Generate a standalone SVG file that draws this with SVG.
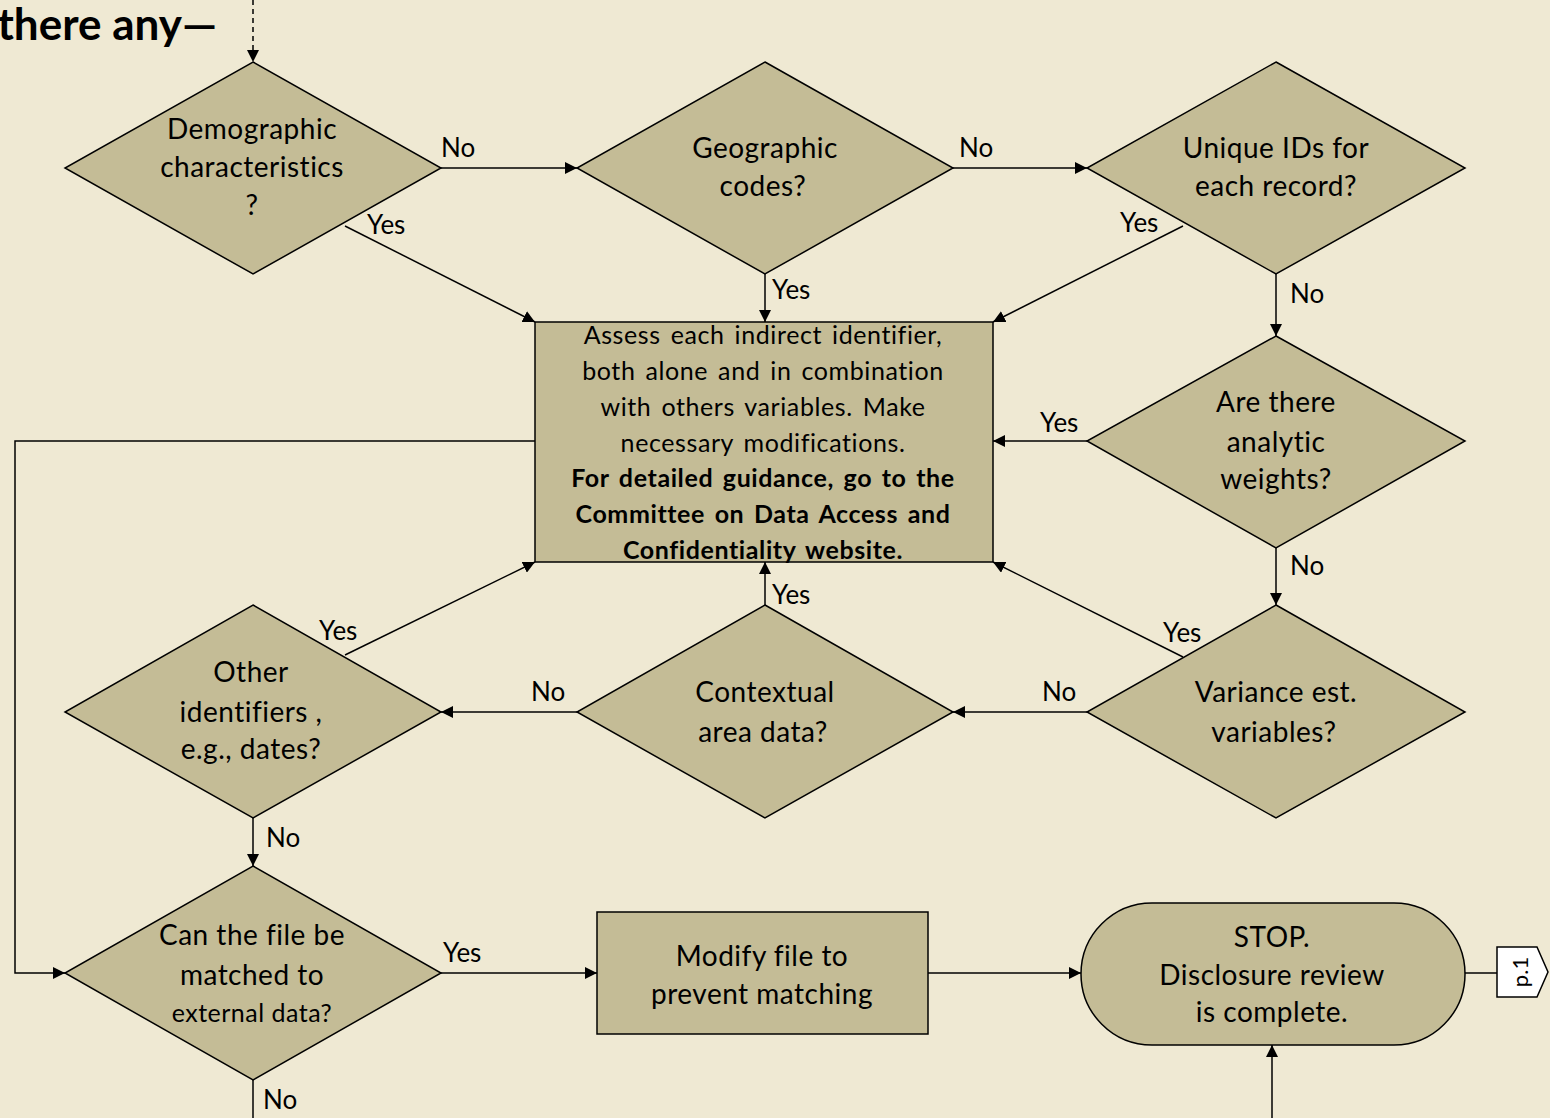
<svg xmlns="http://www.w3.org/2000/svg" width="1550" height="1118" viewBox="0 0 1550 1118">
<defs>
<marker id="ah" viewBox="0 0 10 10" refX="10" refY="5" markerWidth="12" markerHeight="12" markerUnits="userSpaceOnUse" orient="auto"><path d="M0,0 L10,5 L0,10 z" fill="#000"/></marker>
<style>
.n{fill:#c4bc96;stroke:#000;stroke-width:1.5}
.t{font-family:Lato,"Open Sans",sans-serif;font-size:28px;letter-spacing:0.5px;fill:#000;text-anchor:middle}
.s{font-family:Lato,"Open Sans",sans-serif;font-size:25px;letter-spacing:0.6px;word-spacing:3px;fill:#000;text-anchor:middle}
.b{font-weight:bold}
.l{font-family:Lato,"Open Sans",sans-serif;font-size:26px;fill:#000}
.c{fill:none;stroke:#000;stroke-width:1.5}
.a{marker-end:url(#ah)}
</style>
</defs>
<rect width="1550" height="1118" fill="#efe9d3"/>
<text x="217" y="40" class="l b" style="font-size:44px;text-anchor:end">there any—</text>

<g id="connectors">
<line class="c a" x1="253" y1="0" x2="253" y2="62" stroke-dasharray="5,4"/>
<line class="c a" x1="441" y1="168" x2="577" y2="168"/>
<line class="c a" x1="953" y1="168" x2="1087" y2="168"/>
<line class="c a" x1="345" y1="226" x2="535" y2="322"/>
<line class="c a" x1="765" y1="274" x2="765" y2="322"/>
<line class="c a" x1="1183" y1="226" x2="993" y2="322"/>
<line class="c a" x1="1276" y1="274" x2="1276" y2="336"/>
<line class="c a" x1="1087" y1="441" x2="993" y2="441"/>
<line class="c a" x1="1276" y1="548" x2="1276" y2="605"/>
<line class="c a" x1="1087" y1="712" x2="953" y2="712"/>
<line class="c a" x1="1183" y1="657" x2="993" y2="562"/>
<line class="c a" x1="765" y1="605" x2="765" y2="562"/>
<line class="c a" x1="577" y1="712" x2="441" y2="712"/>
<line class="c a" x1="345" y1="655" x2="535" y2="562"/>
<line class="c a" x1="253" y1="818" x2="253" y2="866"/>
<polyline class="c a" points="535,441 15,441 15,973 65,973"/>
<line class="c a" x1="441" y1="973" x2="597" y2="973"/>
<line class="c" x1="253" y1="1080" x2="253" y2="1118"/>
<line class="c a" x1="928" y1="973" x2="1081" y2="973"/>
<line class="c a" x1="1272" y1="1118" x2="1272" y2="1045"/>
<line class="c" x1="1465" y1="973" x2="1497" y2="973"/>
<text class="l" x="441" y="157">No</text>
<text class="l" x="959" y="157">No</text>
<text class="l" x="367" y="234">Yes</text>
<text class="l" x="772" y="299">Yes</text>
<text class="l" x="1120" y="232">Yes</text>
<text class="l" x="1290" y="303">No</text>
<text class="l" x="1040" y="432">Yes</text>
<text class="l" x="1290" y="575">No</text>
<text class="l" x="1042" y="701">No</text>
<text class="l" x="1163" y="642">Yes</text>
<text class="l" x="772" y="604">Yes</text>
<text class="l" x="531" y="701">No</text>
<text class="l" x="319" y="640">Yes</text>
<text class="l" x="266" y="847">No</text>
<text class="l" x="443" y="962">Yes</text>
<text class="l" x="263" y="1109">No</text>
</g>

<g id="demographic">
<polygon class="n" points="253,62 441,168 253,274 65,168"/>
<text class="t" x="252" y="139">Demographic</text>
<text class="t" x="252" y="177">characteristics</text>
<text class="t" x="252" y="215">?</text>
</g>
<g id="geographic">
<polygon class="n" points="765,62 953,168 765,274 577,168"/>
<text class="t" x="765" y="158">Geographic</text>
<text class="t" x="763" y="196">codes?</text>
</g>
<g id="uniqueids">
<polygon class="n" points="1276,62 1465,168 1276,274 1087,168"/>
<text class="t" x="1276" y="158">Unique IDs for</text>
<text class="t" x="1276" y="196">each record?</text>
</g>
<g id="assess">
<rect class="n" x="535" y="322" width="458" height="240"/>
<text class="s" x="763" y="344">Assess each indirect identifier,</text>
<text class="s" x="763" y="380">both alone and in combination</text>
<text class="s" x="763" y="416">with others variables. Make</text>
<text class="s" x="763" y="452">necessary modifications.</text>
<text class="s b" x="763" y="487">For detailed guidance, go to the</text>
<text class="s b" x="763" y="523">Committee on Data Access and</text>
<text class="s b" x="763" y="559">Confidentiality website.</text>
</g>
<g id="weights">
<polygon class="n" points="1276,336 1465,441 1276,548 1087,441"/>
<text class="t" x="1276" y="412">Are there</text>
<text class="t" x="1276" y="452">analytic</text>
<text class="t" x="1276" y="489">weights?</text>
</g>
<g id="variance">
<polygon class="n" points="1276,605 1465,712 1276,818 1087,712"/>
<text class="t" x="1276" y="702">Variance est.</text>
<text class="t" x="1274" y="742">variables?</text>
</g>
<g id="contextual">
<polygon class="n" points="765,605 953,712 765,818 577,712"/>
<text class="t" x="765" y="702">Contextual</text>
<text class="t" x="763" y="742">area data?</text>
</g>
<g id="otherids">
<polygon class="n" points="253,605 441,712 253,818 65,712"/>
<text class="t" x="251" y="682">Other</text>
<text class="t" x="251" y="722">identifiers ,</text>
<text class="t" x="251" y="759">e.g., dates?</text>
</g>
<g id="matched">
<polygon class="n" points="253,866 441,973 253,1080 65,973"/>
<text class="t" x="252" y="945">Can the file be</text>
<text class="t" x="252" y="985">matched to</text>
<text class="t" x="252" y="1022" style="font-size:25px">external data?</text>
</g>
<g id="modify">
<rect class="n" x="597" y="912" width="331" height="122"/>
<text class="t" x="762" y="966">Modify file to</text>
<text class="t" x="762" y="1004">prevent matching</text>
</g>
<g id="stop">
<rect class="n" x="1081" y="903" width="384" height="142" rx="71" ry="71"/>
<text class="t" x="1272" y="947">STOP.</text>
<text class="t" x="1272" y="985">Disclosure review</text>
<text class="t" x="1272" y="1022">is complete.</text>
</g>
<g id="p1">
<polygon points="1497,947 1537,947 1548,972 1537,997 1497,997" fill="#fff" stroke="#000" stroke-width="1.5"/>
<text x="0" y="0" transform="translate(1528,972) rotate(-90)" style="font-family:Lato,'Open Sans',sans-serif;font-size:22px;text-anchor:middle">p.1</text>
</g>
</svg>
